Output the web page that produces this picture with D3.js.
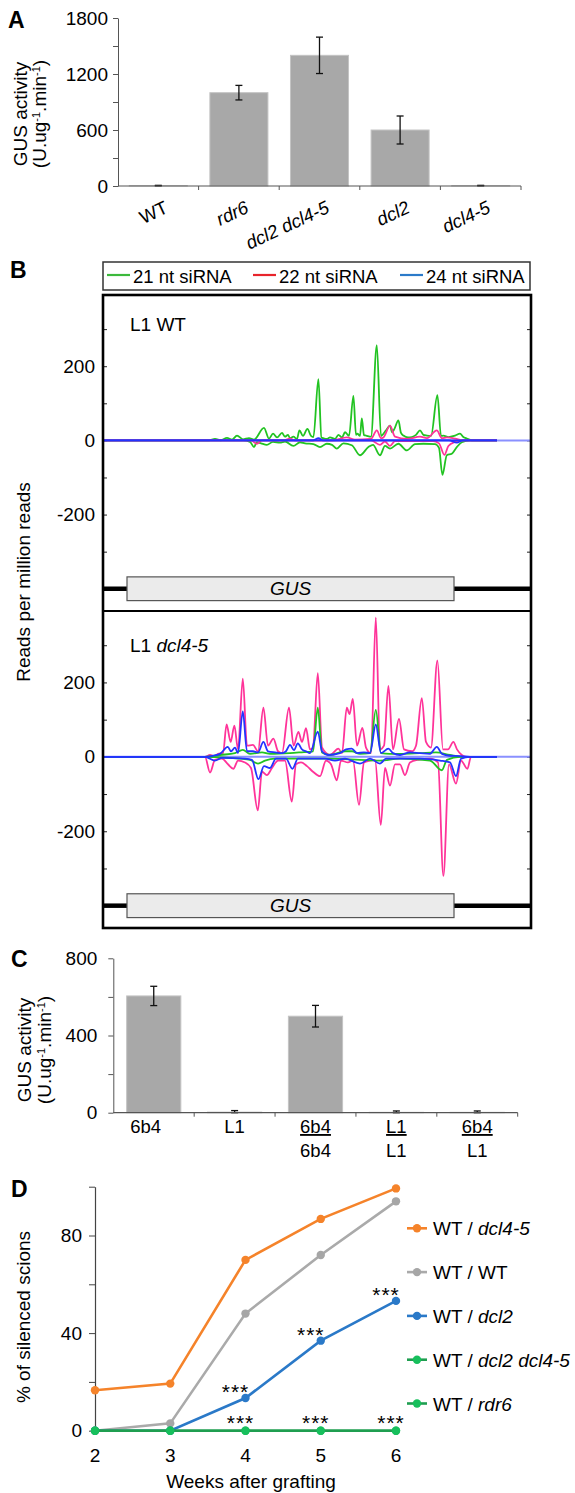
<!DOCTYPE html>
<html>
<head>
<meta charset="utf-8">
<script src="https://cdn.jsdelivr.net/npm/d3@7"></script>
<style>
body { margin: 0; background: #fff; }
svg { font-family: "Liberation Sans", Arial, Helvetica, sans-serif; }
</style>
</head>
<body>
<div id="fig"></div>
<script>
// ---- panel A data
var aCats = ['WT', 'rdr6', 'dcl2 dcl4-5', 'dcl2', 'dcl4-5'];
var aItalic = [false, true, true, true, true];
var aValues = [4, 1000, 1400, 600, 4];
var aErrors = [3, 78, 195, 150, 3];
var aTicks = [0, 300, 600, 900, 1200, 1500, 1800];

// ---- panel B data: [position (nt), reads per million]
var bSizes = ['21 nt siRNA', '22 nt siRNA', '24 nt siRNA'];
var gusStart = 120, gusEnd = 1755, trackEnd = 2140;
var bTicks = [-400, -300, -200, -100, 0, 100, 200, 300];

var wt21Plus = [[0,0],[530,0],[560,4],[590,0],[620,7],[645,2],[670,13],[700,3],[730,6],[755,2],[805,34],[830,5],[850,18],[870,8],[895,20],[910,10],[925,15],[935,6],[952,10],[970,4],[982,27],[1000,12],[1022,31],[1040,12],[1052,9],[1077,165],[1092,8],[1102,6],[1119,4],[1135,8],[1160,4],[1177,15],[1195,8],[1210,22],[1230,12],[1252,120],[1265,15],[1272,18],[1285,12],[1294,59],[1305,14],[1315,13],[1340,10],[1369,257],[1390,12],[1394,13],[1415,27],[1435,40],[1445,22],[1457,31],[1477,54],[1490,20],[1502,13],[1525,8],[1544,9],[1565,15],[1585,27],[1602,15],[1619,13],[1640,12],[1672,122],[1690,12],[1702,13],[1727,9],[1760,13],[1785,18],[1800,10],[1819,5],[1844,0],[1970,0]];
var wt21Minus = [[0,0],[700,0],[735,-4],[755,-18],[769,-5],[790,-8],[819,-12],[850,-4],[885,-6],[910,-3],[952,-15],[985,-5],[1010,-8],[1052,-10],[1085,-18],[1119,-9],[1145,-12],[1169,-22],[1202,-8],[1244,-13],[1285,-40],[1327,-18],[1350,-12],[1385,-40],[1410,-15],[1435,-22],[1477,-9],[1519,-27],[1560,-10],[1602,-9],[1660,-10],[1680,-20],[1697,-93],[1719,-40],[1744,-36],[1769,-18],[1794,-5],[1835,0],[1970,0]];
var wt22Plus = [[0,0],[900,0],[935,5],[960,0],[1150,0],[1219,8],[1260,2],[1340,4],[1369,27],[1390,6],[1402,8],[1435,40],[1460,10],[1520,4],[1585,10],[1620,6],[1669,27],[1695,6],[1719,8],[1760,5],[1800,0],[1970,0]];
var wt22Minus = [[0,0],[740,0],[769,-9],[795,0],[1340,0],[1385,-12],[1410,-3],[1435,-15],[1460,-2],[1650,-2],[1680,-8],[1707,-39],[1727,-15],[1760,-4],[1790,0],[1970,0]];
var wt24Plus = [[0,0],[1050,0],[1077,6],[1100,0],[1970,0]];
var wt24Minus = [[0,0],[1730,0],[1769,-6],[1800,0],[1970,0]];

var d45_22Plus = [[0,0],[510,0],[535,5],[560,2],[575,8],[600,10],[618,87],[638,40],[657,84],[675,20],[699,210],[720,30],[750,32],[775,15],[802,132],[825,30],[852,49],[875,15],[895,10],[930,132],[953,30],[977,67],[995,40],[1015,77],[1035,20],[1050,25],[1074,225],[1095,25],[1135,5],[1177,22],[1195,10],[1219,132],[1233,115],[1249,156],[1270,30],[1297,78],[1315,25],[1340,10],[1364,374],[1385,20],[1405,30],[1427,191],[1450,20],[1480,102],[1505,20],[1545,15],[1565,30],[1594,158],[1615,40],[1640,25],[1672,259],[1700,20],[1725,20],[1752,40],[1770,20],[1794,5],[1815,0],[1970,0]];
var d45_22Minus = [[0,0],[510,0],[535,-42],[560,-8],[595,-5],[625,-20],[652,-32],[675,-10],[710,-15],[740,-30],[774,-144],[795,-40],[819,-49],[845,-30],[875,-10],[910,-10],[944,-120],[965,-20],[990,-15],[1020,-25],[1050,-40],[1085,-52],[1115,-10],[1140,-20],[1169,-63],[1190,-10],[1225,-15],[1250,-10],[1280,-129],[1305,-15],[1335,-10],[1360,-8],[1389,-183],[1410,-30],[1435,-77],[1460,-20],[1485,-20],[1510,-49],[1535,-15],[1575,-8],[1635,-5],[1675,-15],[1702,-320],[1730,-20],[1765,-72],[1790,-10],[1822,-32],[1840,0],[1970,0]];
var d45_21Plus = [[0,0],[510,0],[585,5],[660,10],[699,19],[735,8],[795,12],[835,8],[935,10],[985,12],[1050,15],[1074,132],[1095,12],[1135,5],[1210,15],[1245,15],[1285,8],[1335,10],[1364,126],[1390,10],[1435,8],[1485,8],[1585,10],[1665,12],[1735,5],[1810,0],[1970,0]];
var d45_21Minus = [[0,0],[510,0],[685,-5],[735,-8],[775,-18],[810,-10],[860,-5],[985,-5],[1135,-5],[1285,-8],[1385,-10],[1485,-5],[1635,-10],[1694,-36],[1720,-8],[1785,0],[1970,0]];
var d45_24Plus = [[0,0],[510,0],[550,3],[585,8],[624,27],[640,15],[660,25],[675,10],[699,122],[720,15],[750,15],[775,12],[802,40],[825,15],[860,12],[895,10],[915,15],[935,32],[955,18],[974,36],[995,20],[1015,15],[1035,10],[1074,68],[1095,15],[1125,5],[1185,10],[1215,20],[1244,22],[1270,10],[1305,12],[1335,10],[1364,87],[1390,10],[1427,22],[1450,10],[1485,5],[1535,12],[1585,10],[1635,8],[1669,27],[1695,8],[1735,3],[1785,2],[1835,0],[1970,0]];
var d45_24Minus = [[0,0],[510,0],[560,-10],[595,-3],[710,-5],[745,-8],[777,-60],[805,-25],[835,-30],[865,-5],[915,-5],[947,-32],[975,-5],[1035,-5],[1110,-5],[1160,-10],[1210,-5],[1285,-18],[1335,-5],[1385,-18],[1415,-5],[1485,-5],[1585,-5],[1685,-10],[1735,-15],[1765,-52],[1790,-5],[1835,0],[1970,0]];

// ---- panel C data
var cScion = ['6b4', 'L1', '6b4', 'L1', '6b4'];
var cStock = ['', '', '6b4', 'L1', 'L1'];
var cValues = [605, 3, 500, 2, 2];
var cErrors = [50, 8, 56, 7, 7];
var cTicks = [0, 200, 400, 600, 800];

// ---- panel D data
var dWeeks = [2, 3, 4, 5, 6];
var dNames = ['dcl4-5', 'WT', 'dcl2', 'dcl2 dcl4-5', 'rdr6'];
var dDcl45 = [16.6, 19.3, 70, 86.8, 99.3];
var dWT = [0, 3, 48, 72, 94];
var dDcl2 = [0, 0, 13.4, 36.9, 53.2];
var dDcl2dcl45 = [0, 0, 0, 0, 0];
var dRdr6 = [0, 0, 0, 0, 0];
var dStarWeeks = [4, 5, 6];
var dTicks = [0, 20, 40, 60, 80, 100];

var W = 575, H = 1493;
var svg = d3.select('#fig').append('svg')
  .attr('width', W)
  .attr('height', H);

function panelLetter(t, x, y) {
  svg.append('text').attr('x', x).attr('y', y)
    .style('font-size', '23px').style('font-weight', 'bold').text(t);
}

function gusTitle(cx, cy1, cyc) {
  svg.append('text')
    .attr('transform', 'translate(' + [cx, cyc] + ') rotate(-90)')
    .attr('text-anchor', 'middle').style('font-size', '19px')
    .text('GUS activity');
  var t = svg.append('text')
    .attr('transform', 'translate(' + [cy1, cyc] + ') rotate(-90)')
    .attr('text-anchor', 'middle').style('font-size', '19px');
  t.append('tspan').text('(U.ug');
  t.append('tspan').attr('baseline-shift', 'super').style('font-size', '11px').text('-1');
  t.append('tspan').text('.min');
  t.append('tspan').attr('baseline-shift', 'super').style('font-size', '11px').text('-1');
  t.append('tspan').text(')');
}

// bar panel (A and C)
function barPanel(opt) {
  var x = d3.scaleBand().domain(d3.range(opt.values.length))
    .range(opt.xRange).paddingInner(opt.pad).paddingOuter(opt.pad / 2);
  var y = d3.scaleLinear().domain(opt.yDomain).range(opt.yRange);
  var g = svg.append('g');

  var yAxis = d3.axisLeft(y).tickValues(opt.ticks)
    .tickFormat(function(d) { return opt.labelled.indexOf(d) >= 0 ? d : ''; })
    .tickSize(5).tickSizeOuter(0).tickPadding(opt.tickPad);
  var ya = g.append('g').attr('transform', 'translate(' + opt.xRange[0] + ',0)').call(yAxis);
  ya.select('.domain').attr('stroke', '#555');
  ya.selectAll('.tick line').attr('stroke', '#555');
  ya.selectAll('.tick text').style('font-size', '19px').attr('fill', '#000')
    .style('font-family', '"Liberation Sans", Arial, sans-serif');

  g.selectAll('.bar').data(opt.values).enter().append('rect')
    .attr('x', function(d, i) { return x(i); })
    .attr('width', x.bandwidth())
    .attr('y', function(d) { return y(d); })
    .attr('height', function(d) { return y(0) - y(d); })
    .attr('fill', '#a8a8a8').attr('stroke', '#c4c4c4').attr('stroke-width', 1);

  var eb = g.selectAll('.err').data(opt.values).enter().append('g')
    .attr('stroke', '#111').attr('stroke-width', 1.3);
  eb.append('line')
    .attr('x1', function(d, i) { return x(i) + x.bandwidth() / 2; })
    .attr('x2', function(d, i) { return x(i) + x.bandwidth() / 2; })
    .attr('y1', function(d, i) { return y(d + opt.errors[i]); })
    .attr('y2', function(d, i) { return y(Math.max(0, d - opt.errors[i])); });
  [1, -1].forEach(function(s) {
    eb.append('line')
      .attr('x1', function(d, i) { return x(i) + x.bandwidth() / 2 - 3.5; })
      .attr('x2', function(d, i) { return x(i) + x.bandwidth() / 2 + 3.5; })
      .attr('y1', function(d, i) { return y(Math.max(0, d + s * opt.errors[i])); })
      .attr('y2', function(d, i) { return y(Math.max(0, d + s * opt.errors[i])); });
  });

  // x axis line with ticks at category boundaries
  g.append('line').attr('x1', opt.xRange[0]).attr('x2', opt.xRange[1])
    .attr('y1', y(0)).attr('y2', y(0)).attr('stroke', '#555').attr('stroke-width', 1.2);
  var bounds = d3.range(opt.values.length + 1).map(function(i) { return opt.xRange[0] + i * x.step(); });
  g.selectAll('.bt').data(bounds.slice(1)).enter().append('line')
    .attr('x1', function(d) { return d; }).attr('x2', function(d) { return d; })
    .attr('y1', y(0)).attr('y2', y(0) + 4).attr('stroke', '#555');
  return {x: x, y: y, g: g};
}

// ---------- A
panelLetter('A', 8, 28);
gusTitle(27, 46, 114);
var pa = barPanel({values: aValues, errors: aErrors, xRange: [118, 521], pad: 0.28,
  yDomain: [0, 1800], yRange: [186, 18], ticks: aTicks, labelled: [0, 600, 1200, 1800], tickPad: 5});
pa.g.selectAll('.xl').data(aCats).enter().append('text')
  .attr('transform', function(d, i) {
    return 'translate(' + [pa.x(i) + pa.x.bandwidth() / 2 + 11, 212] + ') rotate(-25)';
  })
  .attr('text-anchor', 'end')
  .style('font-size', '18.5px')
  .style('font-style', function(d, i) { return aItalic[i] ? 'italic' : 'normal'; })
  .text(function(d) { return d; });

// ---------- B
panelLetter('B', 10, 278);
var bColors = ['#22c322', '#ff3399', '#2233ff'];
var bLegendColors = ['#3cb93c', '#e8242b', '#2b7ac9'];
var xB = d3.scaleLinear().domain([0, trackEnd]).range([103, 531]);

// legend
var lg = svg.append('g');
lg.append('rect').attr('x', 103).attr('y', 262).attr('width', 427).attr('height', 28)
  .attr('fill', 'none').attr('stroke', '#333').attr('stroke-width', 1.5);
var legX = [107, 253, 400];
bSizes.forEach(function(s, i) {
  lg.append('line').attr('x1', legX[i]).attr('x2', legX[i] + 23).attr('y1', 275).attr('y2', 275)
    .attr('stroke', bLegendColors[i]).attr('stroke-width', 2.2);
  lg.append('text').attr('x', legX[i] + 26).attr('y', 283).style('font-size', '18.5px').text(s);
});

svg.append('text')
  .attr('transform', 'translate(' + [30, 582] + ') rotate(-90)')
  .attr('text-anchor', 'middle').style('font-size', '19px')
  .text('Reads per million reads');

var bPanels = [
  {top: 295, bottom: 611, label: ['L1 ', 'WT'], italic: false, labelY: 331,
   order: [0, 1, 2],
   traces: [[wt21Plus, wt21Minus], [wt22Plus, wt22Minus], [wt24Plus, wt24Minus]]},
  {top: 611, bottom: 928, label: ['L1 ', 'dcl4-5'], italic: true, labelY: 652,
   order: [1, 0, 2],
   traces: [[d45_21Plus, d45_21Minus], [d45_22Plus, d45_22Minus], [d45_24Plus, d45_24Minus]]}
];

bPanels.forEach(function(p, pi) {
  var y = d3.scaleLinear().domain([-460, 392]).range([p.bottom, p.top]);
  var g = svg.append('g');
  var clipId = 'clipB' + pi;
  svg.append('clipPath').attr('id', clipId).append('rect')
    .attr('x', xB(0)).attr('y', p.top).attr('width', xB(trackEnd) - xB(0)).attr('height', p.bottom - p.top);

  var left = g.append('g').attr('transform', 'translate(' + xB(0) + ',0)')
    .call(d3.axisLeft(y).tickValues(bTicks).tickSize(-4).tickSizeOuter(0).tickPadding(8)
      .tickFormat(function(d) { return (d % 200 === 0 && Math.abs(d) <= 200) ? String(d) : ''; }));
  left.select('.domain').remove();
  left.selectAll('.tick line').attr('stroke', '#222');
  left.selectAll('.tick text').style('font-size', '19px').attr('fill', '#000')
    .style('font-family', '"Liberation Sans", Arial, sans-serif');
  var right = g.append('g').attr('transform', 'translate(' + xB(trackEnd) + ',0)')
    .call(d3.axisRight(y).tickValues(bTicks).tickSize(-4).tickSizeOuter(0).tickFormat(''));
  right.select('.domain').remove();
  right.selectAll('.tick line').attr('stroke', '#222');

  var plot = g.append('g').attr('clip-path', 'url(#' + clipId + ')');
  plot.append('line').attr('x1', xB(0)).attr('x2', xB(trackEnd))
    .attr('y1', y(0)).attr('y2', y(0)).attr('stroke', '#8a90ff').attr('stroke-width', 2);

  var line = d3.line()
    .x(function(d) { return xB(d[0]); })
    .y(function(d) { return y(d[1]); })
    .curve(d3.curveMonotoneX);
  p.order.forEach(function(si) {
    p.traces[si].forEach(function(tr) {
      plot.append('path').datum(tr)
        .attr('d', line).attr('fill', 'none')
        .attr('stroke', bColors[si]).attr('stroke-width', 1.8)
        .attr('stroke-linejoin', 'round');
    });
  });

  // GUS gene model
  g.append('line').attr('x1', xB(0)).attr('x2', xB(gusStart)).attr('y1', y(-400)).attr('y2', y(-400))
    .attr('stroke', '#000').attr('stroke-width', 4.5);
  g.append('line').attr('x1', xB(gusEnd)).attr('x2', xB(trackEnd)).attr('y1', y(-400)).attr('y2', y(-400))
    .attr('stroke', '#000').attr('stroke-width', 4.5);
  g.append('rect').attr('x', xB(gusStart)).attr('y', y(-368))
    .attr('width', xB(gusEnd) - xB(gusStart)).attr('height', y(-432) - y(-368))
    .attr('fill', '#ebebeb').attr('stroke', '#555').attr('stroke-width', 1.2);
  g.append('text').attr('x', (xB(gusStart) + xB(gusEnd)) / 2).attr('y', y(-400) + 6.5)
    .attr('text-anchor', 'middle').style('font-size', '19px').style('font-style', 'italic').text('GUS');

  var lt = g.append('text').attr('x', 130).attr('y', p.labelY).style('font-size', '19px');
  lt.append('tspan').text(p.label[0]);
  lt.append('tspan').style('font-style', p.italic ? 'italic' : 'normal').text(p.label[1]);
});

svg.append('rect').attr('x', 103).attr('y', 295).attr('width', 428).attr('height', 633)
  .attr('fill', 'none').attr('stroke', '#000').attr('stroke-width', 2.6);
svg.append('line').attr('x1', 103).attr('x2', 531).attr('y1', 611).attr('y2', 611)
  .attr('stroke', '#000').attr('stroke-width', 2.2);

// ---------- C
panelLetter('C', 11, 967);
gusTitle(31, 51, 1050);
var pc = barPanel({values: cValues, errors: cErrors, xRange: [113.3, 517.7], pad: 0.33,
  yDomain: [0, 800], yRange: [1112.7, 958.3], ticks: cTicks, labelled: [0, 400, 800], tickPad: 11});
pc.g.selectAll('.xl').data(cScion).enter().append('text')
  .attr('x', function(d, i) { return pc.x(i) + pc.x.bandwidth() / 2 - (i === 0 ? 8 : 0); })
  .attr('y', 1133)
  .attr('text-anchor', 'middle').style('font-size', '18.5px')
  .style('text-decoration', function(d, i) { return cStock[i] ? 'underline' : 'none'; })
  .text(function(d) { return d; });
pc.g.selectAll('.xl2').data(cStock).enter().append('text')
  .attr('x', function(d, i) { return pc.x(i) + pc.x.bandwidth() / 2; })
  .attr('y', 1157)
  .attr('text-anchor', 'middle').style('font-size', '18.5px')
  .text(function(d) { return d; });

// ---------- D
panelLetter('D', 11, 1197);
var xD = d3.scaleLinear().domain([2, 6]).range([95, 396]);
var yD = d3.scaleLinear().domain([0, 100]).range([1430.7, 1186.7]);
var gd = svg.append('g');
var yda = gd.append('g').attr('transform', 'translate(' + xD(2) + ',0)')
  .call(d3.axisLeft(yD).tickValues(dTicks).tickSize(6).tickSizeOuter(0).tickPadding(7)
    .tickFormat(function(d) { return d % 40 === 0 ? d : ''; }));
yda.select('.domain').attr('stroke', '#444').attr('stroke-width', 1.2);
yda.selectAll('.tick line').attr('stroke', '#444');
yda.selectAll('.tick text').style('font-size', '19px').attr('fill', '#000')
  .style('font-family', '"Liberation Sans", Arial, sans-serif');
gd.append('line').attr('x1', xD(2)).attr('x2', xD(6)).attr('y1', yD(0)).attr('y2', yD(0))
  .attr('stroke', '#777').attr('stroke-width', 1);
gd.selectAll('.xt').data(dWeeks).enter().append('text')
  .attr('x', function(d) { return xD(d); }).attr('y', 1462)
  .attr('text-anchor', 'middle').style('font-size', '19px').text(function(d) { return d; });
gd.append('text').attr('x', 251).attr('y', 1488).attr('text-anchor', 'middle')
  .style('font-size', '19px').text('Weeks after grafting');
gd.append('text')
  .attr('transform', 'translate(' + [30, 1317] + ') rotate(-90)')
  .attr('text-anchor', 'middle').style('font-size', '19px').text('% of silenced scions');

var dSeries = [
  {name: dNames[0], values: dDcl45, line: '#f5832a', dot: '#f5832a'},
  {name: dNames[1], values: dWT, line: '#aaaaaa', dot: '#a6a6a6'},
  {name: dNames[2], values: dDcl2, line: '#2a79c8', dot: '#2a79c8'},
  {name: dNames[3], values: dDcl2dcl45, line: '#1f9e50', dot: '#17bf5c'},
  {name: dNames[4], values: dRdr6, line: '#1f9e50', dot: '#17bf5c'}
];
var dLine = d3.line()
  .x(function(d, i) { return xD(dWeeks[i]); })
  .y(function(d) { return yD(d); });
dSeries.forEach(function(s) {
  gd.append('path').datum(s.values).attr('d', dLine)
    .attr('fill', 'none').attr('stroke', s.line).attr('stroke-width', 2.6);
  gd.selectAll(null).data(s.values).enter().append('circle')
    .attr('cx', function(d, i) { return xD(dWeeks[i]); })
    .attr('cy', function(d) { return yD(d); })
    .attr('r', 4.2).attr('fill', s.dot);
});

// significance stars
dStarWeeks.forEach(function(w) {
  var i = dWeeks.indexOf(w);
  gd.append('text').attr('x', xD(w) - 10).attr('y', yD(dDcl2[i]) + 1)
    .attr('text-anchor', 'middle').style('font-size', '21px').style('letter-spacing', '1px').text('***');
  gd.append('text').attr('x', xD(w) - 5).attr('y', yD(dRdr6[i]) - 1)
    .attr('text-anchor', 'middle').style('font-size', '21px').style('letter-spacing', '1px').text('***');
});

// legend D
var dl = gd.selectAll('.dleg').data(dSeries).enter().append('g')
  .attr('transform', function(d, i) { return 'translate(' + [407, 1228.3 + i * 43.8] + ')'; });
dl.append('line').attr('x1', 0).attr('x2', 20).attr('stroke', function(d) { return d.line; })
  .attr('stroke-width', 2.6);
dl.append('circle').attr('cx', 10).attr('r', 4.2).attr('fill', function(d) { return d.dot; });
var dlt = dl.append('text').attr('x', 26).attr('y', 7).style('font-size', '19px');
dlt.append('tspan').text('WT / ');
dlt.append('tspan').style('font-style', function(d) { return d.name === 'WT' ? 'normal' : 'italic'; })
  .text(function(d) { return d.name; });
</script>
</body>
</html>
